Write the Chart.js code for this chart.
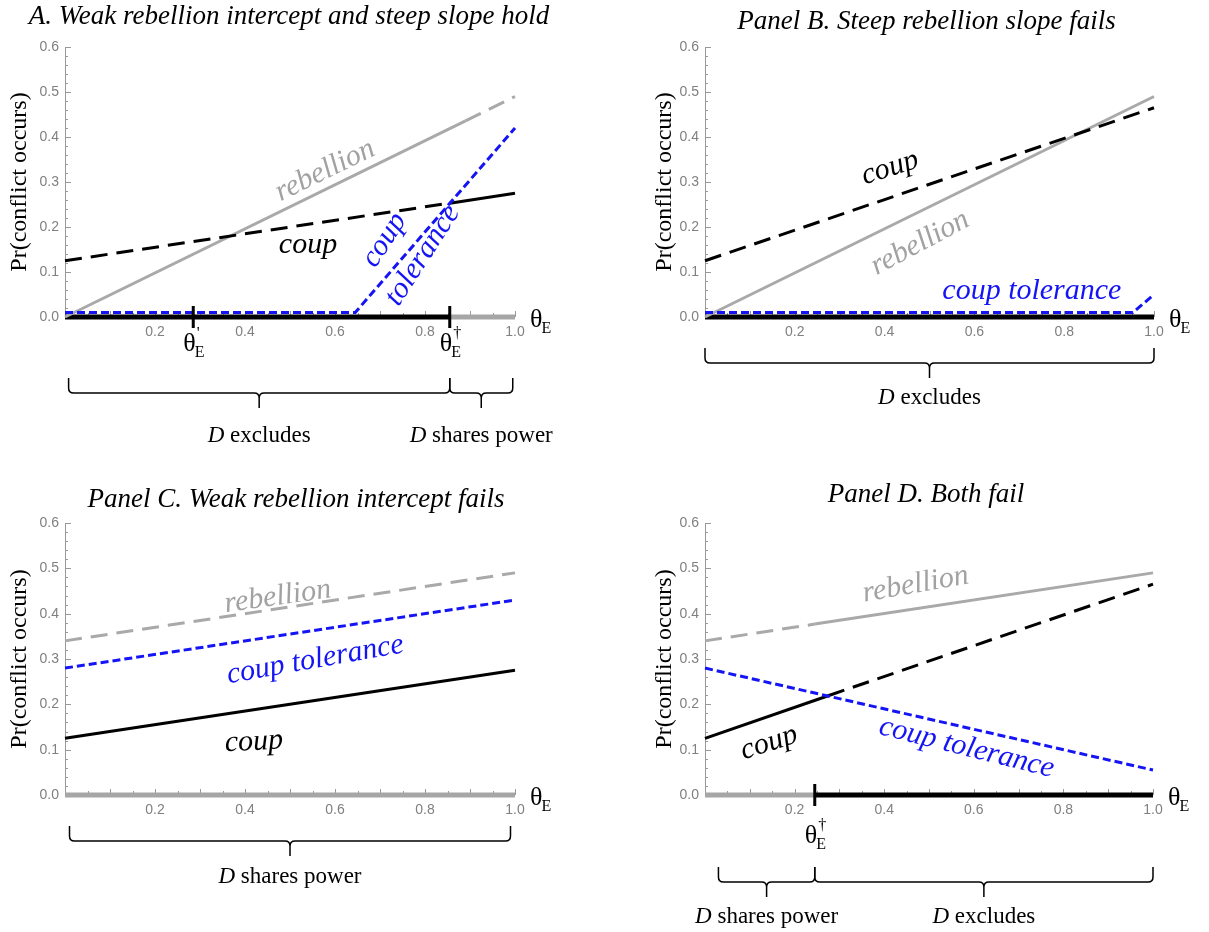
<!DOCTYPE html>
<html>
<head>
<meta charset="utf-8">
<script src="https://cdn.jsdelivr.net/npm/chart.js@4.4.0/dist/chart.umd.min.js"></script>
<style>
  body { margin: 0; background: #fff; width: 1209px; height: 932px; position: relative; overflow: hidden; }
  canvas { position: absolute; }
</style>
</head>
<body>
<canvas id="chartA" width="600" height="470" style="left:0;top:0"></canvas>
<canvas id="chartB" width="569" height="470" style="left:640px;top:0"></canvas>
<canvas id="chartC" width="600" height="456" style="left:0;top:476px"></canvas>
<canvas id="chartD" width="569" height="456" style="left:640px;top:476px"></canvas>
<script>
// Panel A
const aRebelX = [0, 0.89, 1];
const aRebelY = [0, 0.436, 0.49];
const aRebelDash = [0, 1];
const aCoupX = [0, 0.855, 1];
const aCoupY = [0.125, 0.253, 0.275];
const aCoupDash = [1, 0];
const aTolX = [0, 0.645, 1];
const aTolY = [0.01, 0.01, 0.42];
const aRegimeX = [0, 0.855, 1];
const aRegimeShare = [0, 1];

// Panel B
const bRebelX = [0, 1];
const bRebelY = [0, 0.49];
const bRebelDash = [0];
const bCoupX = [0, 1];
const bCoupY = [0.125, 0.465];
const bCoupDash = [1];
const bTolX = [0, 0.953, 1];
const bTolY = [0.01, 0.01, 0.05];
const bRegimeX = [0, 1];
const bRegimeShare = [0];

// Panel C
const cRebelX = [0, 1];
const cRebelY = [0.34, 0.49];
const cRebelDash = [1];
const cCoupX = [0, 1];
const cCoupY = [0.125, 0.275];
const cCoupDash = [0];
const cTolX = [0, 1];
const cTolY = [0.28, 0.43];
const cRegimeX = [0, 1];
const cRegimeShare = [1];

// Panel D
const dRebelX = [0, 0.245, 1];
const dRebelY = [0.34, 0.377, 0.49];
const dRebelDash = [1, 0];
const dCoupX = [0, 0.275, 1];
const dCoupY = [0.125, 0.219, 0.465];
const dCoupDash = [0, 1];
const dTolX = [0, 1];
const dTolY = [0.28, 0.055];
const dRegimeX = [0, 0.245, 1];
const dRegimeShare = [1, 0];

const yTickLabels = ['0.0', '0.1', '0.2', '0.3', '0.4', '0.5', '0.6'];
const xTickLabels = ['0.2', '0.4', '0.6', '0.8', '1.0'];

const SERIF = '"Liberation Serif", "Times New Roman", serif';
const SANS = '"Liberation Sans", Arial, sans-serif';
const LINE_GRAY = '#a9a9a9';
const AXIS_GRAY = '#a6a6a6';
const TEXT_GRAY = '#a2a2a2';
const BLUE = '#1414f4';

const isMult = (v, s) => Math.abs(v / s - Math.round(v / s)) < 1e-6;
const pts = (xs, ys) => xs.map((x, i) => ({ x: x, y: ys[i] }));

function lineSet(xs, ys, color, dashFlags, pattern) {
  return {
    data: pts(xs, ys),
    borderColor: color,
    borderWidth: 3,
    pointRadius: 0,
    tension: 0,
    fill: false,
    clip: false,
    borderDash: dashFlags ? [] : pattern,
    segment: dashFlags ? { borderDash: c => dashFlags[c.p0DataIndex] ? pattern : undefined } : {}
  };
}

function regimeSet(xs, share) {
  return {
    data: xs.map(x => ({ x: x, y: 0 })),
    borderColor: '#000',
    borderWidth: 5,
    borderCapStyle: 'butt',
    pointRadius: 0,
    clip: false,
    segment: { borderColor: c => share[c.p0DataIndex] ? AXIS_GRAY : '#000' }
  };
}

function drawTheta(ctx, left, cy, sup) {
  ctx.fillStyle = '#000';
  ctx.textAlign = 'left';
  ctx.textBaseline = 'middle';
  ctx.font = '26px ' + SERIF;
  ctx.fillText('θ', left, cy);
  const w = ctx.measureText('θ').width;
  ctx.font = '16px ' + SERIF;
  ctx.fillText('E', left + w - 1, cy + 9);
  if (sup) ctx.fillText(sup, left + w + 1, cy - 10);
}

function drawBrace(ctx, x0, x1, top) {
  const r = 5, yl = top + 15, tip = top + 30, xm = (x0 + x1) / 2;
  ctx.beginPath();
  ctx.moveTo(x0, top);
  ctx.lineTo(x0, yl - r);
  ctx.quadraticCurveTo(x0, yl, x0 + r, yl);
  ctx.lineTo(xm - r, yl);
  ctx.quadraticCurveTo(xm, yl, xm, yl + r);
  ctx.lineTo(xm, tip);
  ctx.moveTo(x1, top);
  ctx.lineTo(x1, yl - r);
  ctx.quadraticCurveTo(x1, yl, x1 - r, yl);
  ctx.lineTo(xm + r, yl);
  ctx.quadraticCurveTo(xm, yl, xm, yl + r);
  ctx.strokeStyle = '#000';
  ctx.lineWidth = 1.5;
  ctx.stroke();
}

function drawRuns(ctx, runs, cx, cy) {
  ctx.textBaseline = 'middle';
  ctx.textAlign = 'left';
  ctx.fillStyle = '#000';
  const fonts = runs.map(r => (r.italic ? 'italic ' : '') + '23px ' + SERIF);
  let total = 0;
  const widths = runs.map((r, i) => { ctx.font = fonts[i]; const w = ctx.measureText(r.text).width; total += w; return w; });
  let x = cx - total / 2;
  runs.forEach((r, i) => { ctx.font = fonts[i]; ctx.fillText(r.text, x, cy); x += widths[i]; });
}

function makeDeco(d) {
  return {
    id: 'deco',
    beforeDatasetsDraw(chart) {
      const { ctx, chartArea: ca, scales: { x, y } } = chart;
      ctx.save();
      ctx.strokeStyle = '#999';
      ctx.lineWidth = 1;
      y.ticks.forEach(t => {
        const py = Math.round(y.getPixelForValue(t.value)) + 0.5;
        const len = isMult(t.value, 0.1) ? 6 : 3;
        ctx.beginPath(); ctx.moveTo(ca.left, py); ctx.lineTo(ca.left + len, py); ctx.stroke();
      });
      x.ticks.forEach(t => {
        const px = Math.round(x.getPixelForValue(t.value)) + 0.5;
        const len = isMult(t.value, 0.1) ? 6 : 4;
        ctx.beginPath(); ctx.moveTo(px, ca.bottom); ctx.lineTo(px, ca.bottom - len); ctx.stroke();
      });
      ctx.restore();
    },
    afterDraw(chart) {
      const { ctx, chartArea: ca, scales: { x, y } } = chart;
      ctx.save();
      // title
      ctx.font = 'italic 27px ' + SERIF;
      ctx.fillStyle = '#000';
      ctx.textAlign = 'center';
      ctx.textBaseline = 'middle';
      ctx.fillText(d.title, (ca.left + ca.right) / 2 + d.titleDx, d.titleY);
      // curve labels
      d.labels.forEach(l => {
        ctx.save();
        ctx.translate(x.getPixelForValue(l.x), y.getPixelForValue(l.y));
        ctx.rotate(l.rot * Math.PI / 180);
        ctx.font = 'italic 30px ' + SERIF;
        ctx.fillStyle = l.color;
        ctx.textAlign = 'center';
        ctx.textBaseline = 'middle';
        ctx.fillText(l.text, 0, 0);
        ctx.restore();
      });
      // cutpoint marks
      d.marks.forEach(m => {
        const px = x.getPixelForValue(m.x);
        ctx.strokeStyle = '#000';
        ctx.lineWidth = 3;
        ctx.beginPath(); ctx.moveTo(px, ca.bottom - 11); ctx.lineTo(px, ca.bottom + 11); ctx.stroke();
        drawTheta(ctx, px - 10, ca.bottom + d.markDy, m.sup);
      });
      // axis variable
      drawTheta(ctx, ca.right + 15, ca.bottom + 3, '');
      // braces
      d.braces.forEach(b => {
        const x0 = x.getPixelForValue(b.x0), x1 = x.getPixelForValue(b.x1);
        drawBrace(ctx, x0, x1, ca.bottom + d.braceDy);
        drawRuns(ctx, [{ text: 'D', italic: true }, { text: ' ' + b.words }], (x0 + x1) / 2, ca.bottom + d.braceDy + d.labelDy);
      });
      ctx.restore();
    }
  };
}

function makePanel(id, sets, deco, pad) {
  const ctx = document.getElementById(id).getContext('2d');
  return new Chart(ctx, {
    type: 'line',
    data: { datasets: sets },
    options: {
      responsive: false,
      animation: false,
      events: [],
      layout: { padding: { left: 0, top: 47, right: pad.right, bottom: pad.bottom } },
      plugins: { legend: { display: false }, tooltip: { enabled: false }, title: { display: false } },
      scales: {
        x: {
          type: 'linear', min: 0, max: 1,
          afterFit: s => { s.height = 30; },
          grid: { display: false, drawTicks: false },
          border: { display: false },
          ticks: {
            stepSize: 0.05, autoSkip: false, maxRotation: 0, padding: 7,
            color: '#808080', font: { family: SANS, size: 14 },
            callback: v => (v > 0.01 && isMult(v, 0.2)) ? xTickLabels[Math.round(v / 0.2) - 1] : ''
          }
        },
        y: {
          type: 'linear', min: 0, max: 0.6,
          afterFit: s => { s.width = 65; },
          grid: { display: false, drawTicks: false },
          border: { display: true, color: '#999', width: 1 },
          title: { display: true, text: 'Pr(conflict occurs)', color: '#000', font: { family: SERIF, size: 24 }, padding: { top: pad.titleTop, bottom: 0 } },
          ticks: {
            stepSize: 0.02, autoSkip: false, padding: 6,
            color: '#808080', font: { family: SANS, size: 14 },
            callback: v => isMult(v, 0.1) ? yTickLabels[Math.round(v * 10)] : ''
          }
        }
      }
    },
    plugins: [makeDeco(deco)]
  });
}

const SHORT = [8, 4];
const LONG = [17, 9];

makePanel('chartA', [
  lineSet(aTolX, aTolY, BLUE, null, SHORT),
  lineSet(aCoupX, aCoupY, '#000', aCoupDash, LONG),
  lineSet(aRebelX, aRebelY, LINE_GRAY, aRebelDash, LONG),
  regimeSet(aRegimeX, aRegimeShare)
], {
  title: 'A. Weak rebellion intercept and steep slope hold', titleDx: -1, titleY: 17,
  labels: [
    { text: 'rebellion', x: 0.578, y: 0.325, rot: -26, color: TEXT_GRAY },
    { text: 'coup', x: 0.54, y: 0.16, rot: 0, color: '#000' },
    { text: 'coup', x: 0.71, y: 0.171, rot: -57, color: BLUE },
    { text: 'tolerance', x: 0.795, y: 0.137, rot: -57, color: BLUE }
  ],
  marks: [{ x: 0.285, sup: '\'' }, { x: 0.855, sup: '†' }], markDy: 27,
  braces: [{ x0: 0.008, x1: 0.855, words: 'excludes' }, { x0: 0.855, x1: 0.995, words: 'shares power' }],
  braceDy: 61, labelDy: 58
}, { right: 85, bottom: 123, titleTop: 5 });

makePanel('chartB', [
  lineSet(bTolX, bTolY, BLUE, null, SHORT),
  lineSet(bCoupX, bCoupY, '#000', bCoupDash, LONG),
  lineSet(bRebelX, bRebelY, LINE_GRAY, bRebelDash, LONG),
  regimeSet(bRegimeX, bRegimeShare)
], {
  title: 'Panel B. Steep rebellion slope fails', titleDx: -3, titleY: 22,
  labels: [
    { text: 'rebellion', x: 0.479, y: 0.164, rot: -28, color: TEXT_GRAY },
    { text: 'coup', x: 0.412, y: 0.331, rot: -18, color: '#000' },
    { text: 'coup tolerance', x: 0.728, y: 0.058, rot: 0, color: BLUE }
  ],
  marks: [], markDy: 27,
  braces: [{ x0: 0, x1: 1, words: 'excludes' }],
  braceDy: 31, labelDy: 50
}, { right: 55, bottom: 123, titleTop: 10 });

makePanel('chartC', [
  lineSet(cTolX, cTolY, BLUE, null, SHORT),
  lineSet(cCoupX, cCoupY, '#000', cCoupDash, LONG),
  lineSet(cRebelX, cRebelY, LINE_GRAY, cRebelDash, LONG),
  regimeSet(cRegimeX, cRegimeShare)
], {
  title: 'Panel C. Weak rebellion intercept fails', titleDx: 6, titleY: 24,
  labels: [
    { text: 'rebellion', x: 0.473, y: 0.437, rot: -8, color: TEXT_GRAY },
    { text: 'coup tolerance', x: 0.556, y: 0.298, rot: -10, color: BLUE },
    { text: 'coup', x: 0.42, y: 0.117, rot: -3, color: '#000' }
  ],
  marks: [], markDy: 27,
  braces: [{ x0: 0.01, x1: 0.99, words: 'shares power' }],
  braceDy: 31, labelDy: 51
}, { right: 85, bottom: 107, titleTop: 5 });

makePanel('chartD', [
  lineSet(dTolX, dTolY, BLUE, null, SHORT),
  lineSet(dCoupX, dCoupY, '#000', dCoupDash, LONG),
  lineSet(dRebelX, dRebelY, LINE_GRAY, dRebelDash, LONG),
  regimeSet(dRegimeX, dRegimeShare)
], {
  title: 'Panel D. Both fail', titleDx: -3, titleY: 19,
  labels: [
    { text: 'rebellion', x: 0.47, y: 0.464, rot: -10, color: TEXT_GRAY },
    { text: 'coup', x: 0.143, y: 0.115, rot: -18, color: '#000' },
    { text: 'coup tolerance', x: 0.584, y: 0.104, rot: 14, color: BLUE }
  ],
  marks: [{ x: 0.245, sup: '†' }], markDy: 41,
  braces: [{ x0: 0.03, x1: 0.245, words: 'shares power' }, { x0: 0.245, x1: 1, words: 'excludes' }],
  braceDy: 72, labelDy: 50
}, { right: 56, bottom: 107, titleTop: 10 });
</script>
</body>
</html>
